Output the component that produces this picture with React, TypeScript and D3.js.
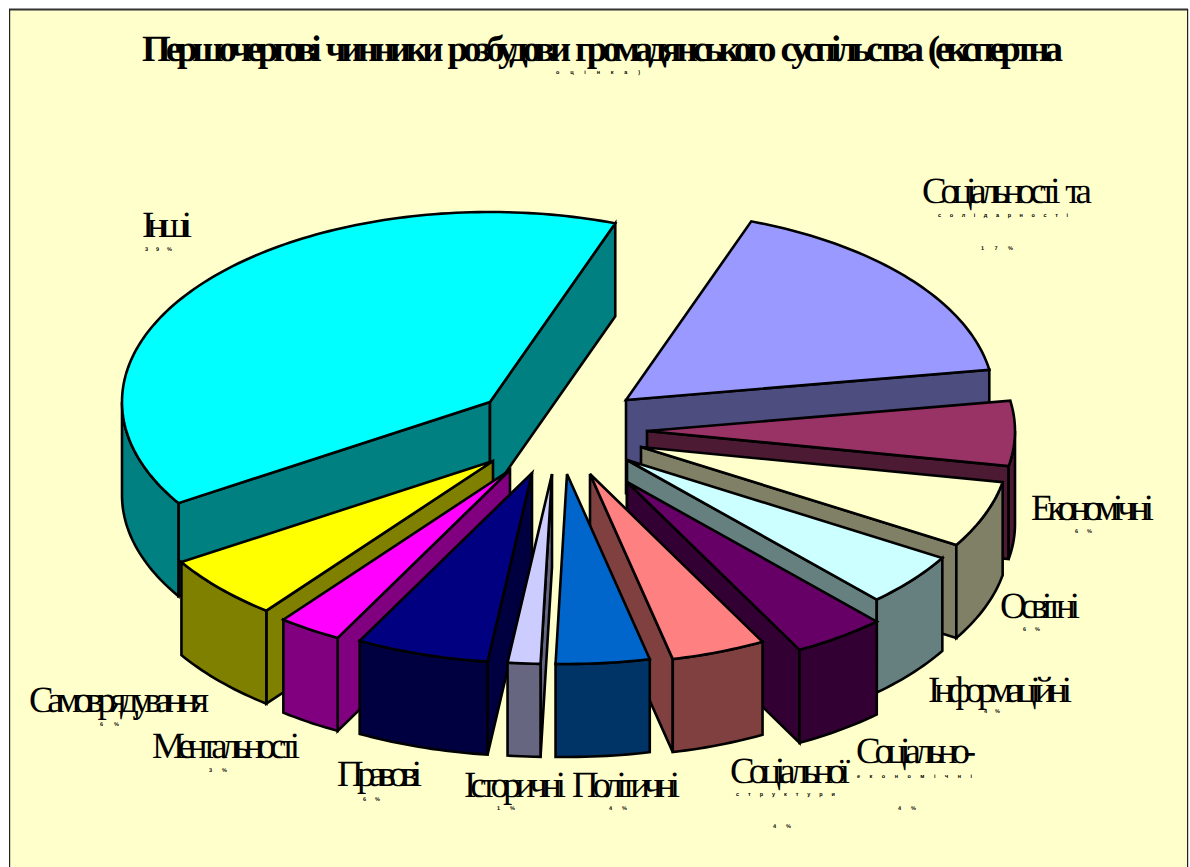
import React from "react";
import * as d3 from "d3";

const categories = ["Соціальності та", "Економічні", "Освітні", "Інформаційні", "Соціально-", "Соціальної", "Політичні", "Історичні", "Правові", "Ментальності", "Самоврядування", "Інші"];
const subLabels = ["с о л і д а р н о с т і", "", "", "", "е к о н о м і ч н і", "с т р у к т у р и", "", "", "", "", "", ""];
const percentLabels = ["1 7 %", "6 %", "6 %", "4 %", "4 %", "4 %", "4 %", "1 %", "6 %", "3 %", "6 %", "3 9 %"];
// Angular shares (the printed labels are rounded)
const values = [16.9, 5.5, 5.65, 4.5, 4.1, 4.15, 4.1, 1.43, 5.82, 2.8, 5.5, 39.4];

const topColors = ["#9999FF", "#993366", "#FFFFCC", "#CCFFFF", "#660066", "#FF8080", "#0066CC", "#CCCCFF", "#000080", "#FF00FF", "#FFFF00", "#00FFFF"];
const wallColors = ["#4D4D80", "#4D1A33", "#808066", "#668080", "#330033", "#804040", "#003366", "#666680", "#000040", "#800080", "#808000", "#008080"];

// Layout: where each exploded slice's tip sits
const tipX = [626, 647, 641, 627, 627, 590, 567, 552, 532, 510, 493, 490];
const tipY = [400, 431, 447, 460, 482, 474, 474, 474, 473, 470, 461, 402];
const paintOrder = [0, 1, 2, 3, 4, 5, 6, 11, 10, 9, 8, 7];

// Layout of labels: [x0, x1, baseline]
const nameBox = [[922, 1092, 203], [1031, 1154, 520], [1000, 1080, 618], [928, 1072, 702], [856, 976, 763], [730, 850, 783], [572, 680, 797], [464, 566, 797], [337, 422, 786], [152, 300, 758], [29, 209, 712], [142, 192, 237]];
const subBox = [[938, 1068, 217], null, null, null, [857, 972, 778], [736, 835, 796], null, null, null, null, null, null];
const pctBox = [[981, 1013, 250], [1075, 1092, 533], [1023, 1040, 631], [984, 1000, 713], [898, 916, 810], [773, 791, 828], [609, 627, 810], [497, 515, 810], [363, 380, 801], [209, 227, 772], [100, 119, 726], [145, 172, 251]];

const titleLine = "Першочергові чинники розбудови громадянського суспільства (експертна";
const titleTail = "о ц і н к а )";

const START = (19.9 * Math.PI) / 180;
const xScale = d3.scaleLinear().domain([-1, 1]).range([-368, 368]);
const yScale = d3.scaleLinear().domain([-1, 1]).range([-190, 190]);
const DEPTH = 93;
const line = d3.line<[number, number]>();

const arcs = d3.pie<number>().sort(null).startAngle(START).endAngle(START + 2 * Math.PI)(values);

function at(i: number, t: number, drop = 0): [number, number] {
  return [tipX[i] + xScale(Math.sin(t)), tipY[i] + yScale(-Math.cos(t)) + drop];
}
function samples(a: number, b: number): number[] {
  const n = Math.max(2, Math.ceil(Math.abs(b - a) / 0.02));
  return d3.range(n + 1).map((k) => a + ((b - a) * k) / n);
}

function Slice({ i }: { i: number }) {
  const { startAngle: a, endAngle: b } = arcs[i];
  const tip: [number, number] = [tipX[i], tipY[i]];
  const tipLow: [number, number] = [tipX[i], tipY[i] + DEPTH];
  const walls: string[] = [];
  if (Math.sin(a) < 0) walls.push(line([tip, at(i, a), at(i, a, DEPTH), tipLow])! + "Z");
  if (Math.sin(b) > 0) walls.push(line([tip, at(i, b), at(i, b, DEPTH), tipLow])! + "Z");
  const ra = Math.max(a, Math.PI / 2);
  const rb = Math.min(b, (3 * Math.PI) / 2);
  if (rb > ra) {
    const up = samples(ra, rb).map((t) => at(i, t));
    const down = samples(rb, ra).map((t) => at(i, t, DEPTH));
    walls.push(line([...up, ...down])! + "Z");
  }
  const top = line([tip, ...samples(a, b).map((t) => at(i, t))])! + "Z";
  return (
    <g stroke="#000" strokeWidth={2.6} strokeLinejoin="miter">
      {walls.map((d, k) => (
        <path key={k} d={d} fill={wallColors[i]} />
      ))}
      <path d={top} fill={topColors[i]} />
    </g>
  );
}

const SERIF = "'Liberation Serif', serif";
const SANS = "'Liberation Sans', sans-serif";

function Fit({ box, text, size, family, weight, gap }: { box: number[]; text: string; size: number; family: string; weight?: string; gap?: number }) {
  return (
    <text
      x={box[0]}
      y={box[2]}
      textLength={box[1] - box[0]}
      lengthAdjust="spacing"
      fontSize={size}
      fontFamily={family}
      fontWeight={weight ?? "normal"}
      wordSpacing={gap ?? 0}
      fill="#000"
      style={{ textRendering: "geometricPrecision" }}
    >
      {text}
    </text>
  );
}

export default function App() {
  return (
    <svg width={1190} height={867} style={{ position: "absolute", left: 0, top: 0 }}>
      <rect x={0} y={0} width={1190} height={867} fill="#fff" />
      <rect x={9} y={9} width={1179} height={858} fill="#FFFFCC" />
      <rect x={9} y={8.5} width={1179} height={2} fill="#333" />
      <rect x={9} y={9} width={1.2} height={858} fill="#222" />
      <rect x={1187} y={9} width={1.2} height={858} fill="#222" />
      <Fit box={[142, 1063, 61]} text={titleLine} size={37} family={SERIF} weight="bold" gap={5} />
      <Fit box={[556, 640, 74]} text={titleTail} size={5.5} family={SANS} weight="bold" />
      {paintOrder.map((i) => (
        <Slice key={i} i={i} />
      ))}
      {categories.map((c, i) => (
        <g key={c}>
          <Fit box={nameBox[i]} text={c} size={37} family={SERIF} gap={8} />
          {subBox[i] && <Fit box={subBox[i] as number[]} text={subLabels[i]} size={5.5} family={SANS} weight="bold" />}
          <Fit box={pctBox[i]} text={percentLabels[i]} size={5.5} family={SANS} weight="bold" />
        </g>
      ))}
    </svg>
  );
}
